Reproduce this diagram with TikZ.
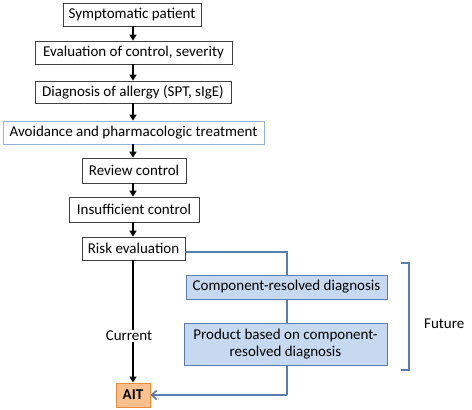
\documentclass[tikz,border=0pt]{standalone}
\usepackage{fontspec}
\setmainfont{Carlito}
\usetikzlibrary{arrows.meta}
\definecolor{boxline}{HTML}{404040}
\definecolor{lightblueline}{HTML}{95B3D7}
\definecolor{steel}{HTML}{5A7DB0}
\definecolor{fillblue}{HTML}{C6D9F0}
\definecolor{ait fill}{HTML}{FAC090}
\definecolor{ait line}{HTML}{E98B3A}
\tikzset{
  basebox/.style={draw=boxline, line width=0.8pt, fill=white, inner sep=0pt, align=center,
    font=\fontsize{15}{17}\selectfont},
  bluebox/.style={draw=steel, line width=0.8pt, fill=fillblue, inner sep=0pt, align=center,
    font=\fontsize{15}{17.5}\selectfont},
  flowarrow/.style={line width=1.5pt, -{Triangle[length=6pt,width=7pt]}},
  blueline/.style={draw=steel, line width=1.6pt},
  labeltext/.style={inner sep=1pt, font=\fontsize{15}{17}\selectfont}
}
\begin{document}
\begin{tikzpicture}[x=1pt,y=-1pt]
\useasboundingbox (0,0) rectangle (472,410);
\node[basebox, minimum width=138pt, minimum height=23pt] (n1) at (132,14.5) {Symptomatic patient};
\node[basebox, minimum width=197pt, minimum height=23pt] (n2) at (133.5,52.5) {Evaluation of control, severity};
\node[basebox, minimum width=196pt, minimum height=22pt] (n3) at (133,92) {Diagnosis of allergy (SPT, sIgE)};
\node[basebox, draw=lightblueline, minimum width=261pt, minimum height=23pt] (n4) at (133.5,132.5) {Avoidance and pharmacologic treatment};
\node[basebox, minimum width=104pt, minimum height=25pt] (n5) at (134,170.5) {Review control};
\node[basebox, minimum width=130pt, minimum height=25pt] (n6) at (134,209.5) {Insufficient control};
\node[basebox, minimum width=103pt, minimum height=23pt] (n7) at (133.5,248.5) {Risk evaluation};
\node[basebox, draw=ait line, fill=ait fill, line width=1pt, minimum width=34pt, minimum height=24pt,
  font=\fontsize{15}{17}\selectfont\bfseries] (ait) at (133,395) {AIT};
\node[labeltext] (cur) at (129,336) {Current};
\node[labeltext, anchor=west] (fut) at (423,324) {Future};

\coordinate (c1) at (287,252);
\coordinate (c2) at (287,395);
\draw[blueline] (n7.east |- c1) -- (c1) -- (c2);
\draw[blueline, -{Straight Barb[length=5pt,width=9pt]}] (c2) -- (ait.east);

\node[bluebox, minimum width=201pt, minimum height=24pt] (cr) at (286.5,287) {Component-resolved diagnosis};
\node[bluebox, minimum width=203pt, minimum height=42pt] (pr) at (285.5,344) {Product based on component-\\resolved diagnosis};

\coordinate (b1) at (401,263);
\coordinate (b2) at (409,263);
\coordinate (b3) at (409,370);
\coordinate (b4) at (401,370);
\draw[blueline, line width=1.5pt] (b1) -- (b2) -- (b3) -- (b4);

\foreach \a/\b in {n1/n2, n2/n3, n3/n4, n4/n5, n5/n6, n6/n7}
  \draw[flowarrow] (\a.south -| 133,0) -- (\b.north -| 133,0);
\draw[line width=1.5pt] (n7.south -| 133,0) -- (cur.north -| 133,0);
\draw[flowarrow] (cur.south -| 133,0) -- (ait.north);
\end{tikzpicture}
\end{document}
